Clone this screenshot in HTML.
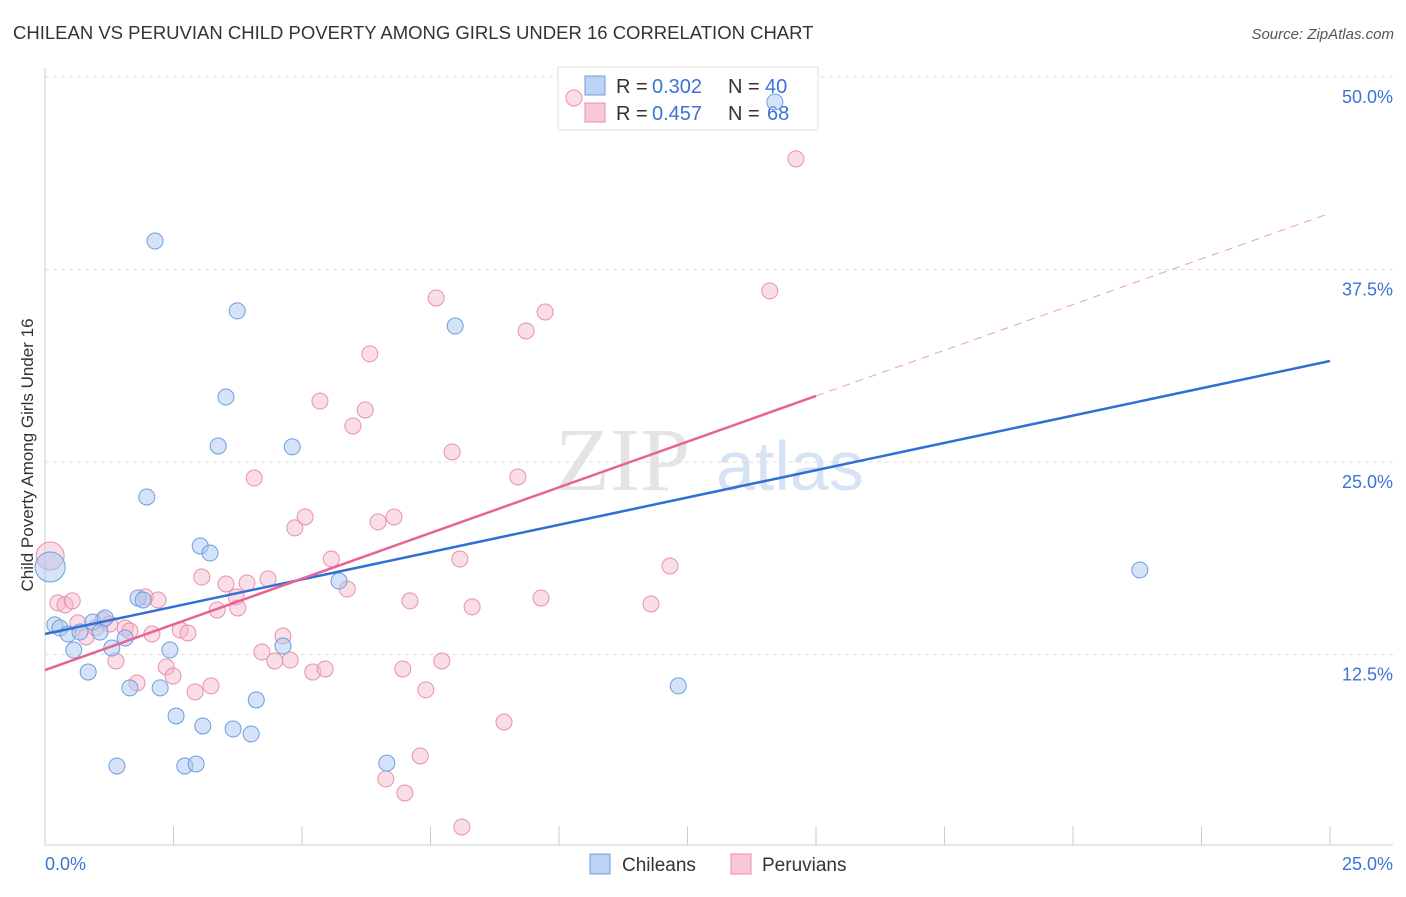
<!DOCTYPE html>
<html><head><meta charset="utf-8"><style>
body{margin:0;background:#fff;font-family:"Liberation Sans",sans-serif;}
</style></head><body>
<svg id="chart" width="1406" height="892" xmlns="http://www.w3.org/2000/svg" font-family="Liberation Sans, sans-serif">
<text x="13" y="39" font-size="18.5" fill="#333">CHILEAN VS PERUVIAN CHILD POVERTY AMONG GIRLS UNDER 16 CORRELATION CHART</text>
<text x="1394" y="39" font-size="15" fill="#555" text-anchor="end" font-style="italic">Source: ZipAtlas.com</text>
<text transform="translate(33,455) rotate(-90)" font-size="17" fill="#333" text-anchor="middle">Child Poverty Among Girls Under 16</text>
<text x="555" y="490" font-size="90" fill="#e4e4e4" font-family="Liberation Serif, serif">ZIP</text>
<text x="716" y="490" font-size="70" fill="#d6e3f5">atlas</text>
<g id="grid"></g>
<g>
<rect x="558" y="67" width="260" height="63" fill="#fff" stroke="#ddd"/>
<rect x="585" y="76" width="20" height="19" fill="#bcd3f3" stroke="#6f9de0"/>
<rect x="585" y="103" width="20" height="19" fill="#f9c6d5" stroke="#e890aa"/>
<text x="616" y="93" font-size="20" fill="#333">R =</text><text x="652" y="93" font-size="20" fill="#3b73d6">0.302</text>
<text x="728" y="93" font-size="20" fill="#333">N =</text><text x="765" y="93" font-size="20" fill="#3b73d6">40</text>
<text x="616" y="120" font-size="20" fill="#333">R =</text><text x="652" y="120" font-size="20" fill="#3b73d6">0.457</text>
<text x="728" y="120" font-size="20" fill="#333">N =</text><text x="767" y="120" font-size="20" fill="#3b73d6">68</text>
</g>
<g id="pts"></g><g id="lines"></g>
<g>
<rect x="590" y="854" width="20" height="20" fill="#bcd3f3" stroke="#6f9de0"/>
<text x="622" y="871" font-size="19" fill="#333">Chileans</text>
<rect x="731" y="854" width="20" height="20" fill="#f9c6d5" stroke="#e890aa"/>
<text x="762" y="871" font-size="19" fill="#333">Peruvians</text>
</g>
</svg>
<script>
const yTicks=[12.5,25,37.5,50];
const yTickLabels=["12.5%","25.0%","37.5%","50.0%"];
const blueX=[0.10,0.19,0.29,0.45,0.56,0.68,0.84,0.93,1.07,1.17,1.30,1.40,1.56,1.65,1.81,1.91,1.98,2.14,2.24,2.43,2.55,2.72,2.94,3.02,3.07,3.21,3.37,3.52,3.66,3.74,4.01,4.11,4.63,4.81,5.72,6.65,7.98,12.32,21.30,14.20];
const blueY=[18.18,14.42,14.22,13.83,12.79,13.96,11.36,14.61,13.96,14.87,12.92,5.26,13.57,10.33,16.17,16.04,22.73,39.35,10.33,12.79,8.51,5.26,5.39,19.55,7.86,19.09,26.04,29.22,7.66,34.81,7.34,9.55,13.05,25.98,17.27,5.45,33.83,10.46,17.99,48.38];
const pinkX=[0.10,0.25,0.39,0.53,0.64,0.80,0.99,1.13,1.26,1.38,1.56,1.65,1.79,1.95,2.08,2.20,2.36,2.49,2.63,2.78,2.92,3.05,3.23,3.35,3.52,3.72,3.75,3.93,4.07,4.22,4.34,4.47,4.63,4.77,4.86,5.06,5.21,5.35,5.45,5.57,5.88,5.99,6.23,6.32,6.48,6.63,6.79,6.96,7.00,7.10,7.30,7.41,7.61,7.72,7.92,8.07,8.11,8.31,8.93,9.20,9.36,9.65,9.73,10.29,11.79,12.16,14.10,14.61];
const pinkY=[18.90,15.85,15.72,15.98,14.55,13.64,14.22,14.74,14.48,12.08,14.22,14.03,10.65,16.24,13.83,16.04,11.69,11.10,14.09,13.90,10.07,17.53,10.46,15.39,17.08,16.24,15.52,17.14,23.96,12.66,17.40,12.08,13.70,12.14,20.72,21.43,11.36,28.96,11.56,18.70,16.75,27.34,28.38,32.02,21.11,4.42,21.43,11.56,3.51,15.98,5.91,10.20,35.65,12.08,25.65,18.70,1.30,15.59,8.12,24.03,33.51,16.17,34.74,48.64,15.78,18.25,36.11,44.68];
const blueTrend=[13.83,31.56];   // value at x=0, x=25
const pinkTrend=[11.49,29.29];   // value at x=0, x=15 (solid end)
const NS="http://www.w3.org/2000/svg";
const X=v=>45+v/25*1285, Y=v=>847-v*15.4;
function mk(t,a,p){const e=document.createElementNS(NS,t);for(const k in a)e.setAttribute(k,a[k]);p.appendChild(e);return e;}
const grid=document.getElementById('grid');
mk('line',{x1:45,y1:845,x2:1393,y2:845,stroke:'#ccc'},grid);
mk('line',{x1:45,y1:68,x2:45,y2:845,stroke:'#ccc'},grid);
for(let i=0;i<=10;i++){const l=mk('line',{x1:X(i*2.5),y1:826,x2:X(i*2.5),y2:845,stroke:'#ccc'},grid);

}
yTicks.forEach((v,i)=>{const l=mk('line',{x1:45,y1:Y(v),x2:1393,y2:Y(v),stroke:'#ddd','stroke-dasharray':'4,4'},grid);


const t=mk('text',{x:1393,y:Y(v)+26,'font-size':18,fill:'#3b73d6','text-anchor':'end'},grid);t.textContent=yTickLabels[i];

});
const x0=mk('text',{x:45,y:870,'font-size':18,fill:'#3b73d6'},grid);x0.textContent='0.0%';


const x1=mk('text',{x:1393,y:870,'font-size':18,fill:'#3b73d6','text-anchor':'end'},grid);x1.textContent='25.0%';


const pts=document.getElementById('pts');
pinkX.forEach((x,i)=>{const c=mk('circle',{cx:X(x),cy:Y(pinkY[i]),r:i==0?14:8,fill:'#f5b6c8','fill-opacity':0.45,stroke:'#e890aa','stroke-width':1},pts);

});
blueX.forEach((x,i)=>{const c=mk('circle',{cx:X(x),cy:Y(blueY[i]),r:i==0?15:8,fill:'#a9c8f0','fill-opacity':0.5,stroke:'#6f9de0','stroke-width':1},pts);

});
const ln=document.getElementById('lines');
const b=mk('line',{x1:X(0),y1:Y(blueTrend[0]),x2:X(25),y2:Y(blueTrend[1]),stroke:'#2f6fd6','stroke-width':2.5},ln);


const slope=(pinkTrend[1]-pinkTrend[0])/15;
const p=mk('line',{x1:X(0),y1:Y(pinkTrend[0]),x2:X(15),y2:Y(pinkTrend[1]),stroke:'#e8648f','stroke-width':2.5},ln);


const pd=mk('line',{x1:X(15),y1:Y(pinkTrend[1]),x2:X(25),y2:Y(pinkTrend[0]+slope*25),stroke:'#e8a0b6','stroke-width':1,'stroke-dasharray':'8,6'},ln);


</script>
</body></html>
